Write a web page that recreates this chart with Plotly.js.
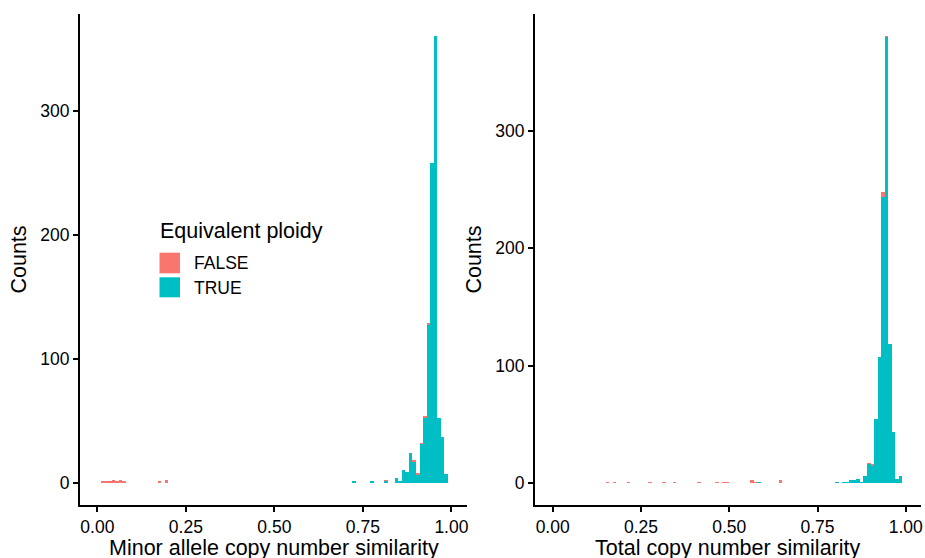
<!DOCTYPE html>
<html>
<head>
<meta charset="utf-8">
<script src="https://cdn.plot.ly/plotly-3.0.1.min.js"></script>
<style>html,body{margin:0;padding:0;background:#fff;}#chart{width:925px;height:558px;}</style>
</head>
<body>
<div id="chart"></div>
<script>
// ---- data (bin start, width 0.01) ----
const leftBins  = [0.01,0.02,0.03,0.04,0.05,0.06,0.07,0.17,0.19,0.72,0.77,0.81,0.84,0.85,0.86,0.87,0.88,0.89,0.90,0.91,0.92,0.93,0.94,0.95,0.96,0.97,0.98];
const leftTrue  = [0,0,0,0,0,0,0,0,0,1,1,1,4,1,10,9,24,17,6,31,52,127,258,360,52,37,7];
const leftFalse = [1,1,1,2,1,2,1,1,2,0,0,1,0,0,0,0,0,1,2,1,2,2,0,0,0,0,0];

const rightBins  = [0.15,0.17,0.21,0.27,0.31,0.34,0.41,0.46,0.48,0.49,0.56,0.57,0.58,0.64,0.80,0.82,0.83,0.84,0.85,0.86,0.87,0.88,0.89,0.90,0.91,0.92,0.93,0.94,0.95,0.96,0.97,0.98];
const rightTrue  = [0,0,0,0,0,0,0,0,0,0,0,0,1,0,1,1,1,2,2,3,1,6,16,14,54,107,244,380,118,43,3,6];
const rightFalse = [1,1,1,1,1,1,1,1,1,1,2,1,0,2,0,0,0,0,0,0,0,0,1,2,0,0,4,1,0,0,0,0];

const xTickVals = [0, 0.25, 0.5, 0.75, 1];
const xTickText = ['0.00', '0.25', '0.50', '0.75', '1.00'];
const yTickVals = [0, 100, 200, 300];
const groups = ['FALSE', 'TRUE'];
const colors = {FALSE: '#F8766D', TRUE: '#00BFC4'};
const binWidth = 0.01;
const xTitles = ['Minor allele copy number similarity', 'Total copy number similarity'];
const yTitle = 'Counts';
const legendTitle = 'Equivalent ploidy';

// ---- layout helpers ----
const W = 925, H = 558, mT = 14, mB = 53;
const PH = H - mT - mB;
const px = x => x / W;
const py = y => 1 - (y - mT) / PH;
const FONT = 'Liberation Sans, Arial, Helvetica, sans-serif';

function bar(x, y, name, xa, ya) {
  return {
    type: 'bar', x: x, y: y, name: name, xaxis: xa, yaxis: ya,
    width: binWidth, offset: 0,
    marker: {color: colors[name], line: {width: 0}},
    showlegend: false, hoverinfo: 'x+y+name'
  };
}

const traces = [
  bar(leftBins, leftTrue, 'TRUE', 'x', 'y'),
  bar(leftBins, leftFalse, 'FALSE', 'x', 'y'),
  bar(rightBins, rightTrue, 'TRUE', 'x2', 'y2'),
  bar(rightBins, rightFalse, 'FALSE', 'x2', 'y2')
];

const axCommon = {
  showgrid: false, zeroline: false, showline: true, linecolor: '#000', linewidth: 2,
  ticks: 'outside', ticklen: 5, tickwidth: 2, tickcolor: '#000',
  tickfont: {family: FONT, size: 17.5, color: '#000'}, automargin: false
};
const titleFont = {family: FONT, size: 21.5, color: '#000'};

const layout = {
  width: W, height: H,
  margin: {l: 0, r: 0, t: mT, b: mB, pad: 0},
  paper_bgcolor: '#fff', plot_bgcolor: '#fff',
  barmode: 'stack', bargap: 0,
  font: {family: FONT, color: '#000'},
  xaxis: Object.assign({}, axCommon, {
    domain: [px(80), px(467)], range: [-0.049, 1.044], anchor: 'y',
    tickvals: xTickVals, ticktext: xTickText
  }),
  yaxis: Object.assign({}, axCommon, {
    domain: [0, 1], range: [-18, 378], anchor: 'x',
    tickvals: yTickVals,
    title: {text: yTitle, font: titleFont, standoff: 8}
  }),
  xaxis2: Object.assign({}, axCommon, {
    domain: [px(535), px(921)], range: [-0.05, 1.043], anchor: 'y2',
    tickvals: xTickVals, ticktext: xTickText
  }),
  yaxis2: Object.assign({}, axCommon, {
    domain: [0, 1], range: [-19, 400], anchor: 'x2',
    tickvals: yTickVals,
    title: {text: yTitle, font: titleFont, standoff: 8}
  }),
  shapes: [
    {type: 'rect', xref: 'paper', yref: 'paper', x0: px(159.5), x1: px(180), y0: py(273.3), y1: py(252.7),
     fillcolor: colors.FALSE, line: {width: 0}},
    {type: 'rect', xref: 'paper', yref: 'paper', x0: px(159.5), x1: px(180), y0: py(297.3), y1: py(277.3),
     fillcolor: colors.TRUE, line: {width: 0}}
  ],
  annotations: [
    {text: xTitles[0], xref: 'paper', yref: 'paper', x: px(273.5), y: py(548), xanchor: 'center', yanchor: 'middle',
     showarrow: false, font: titleFont},
    {text: xTitles[1], xref: 'paper', yref: 'paper', x: px(728), y: py(548), xanchor: 'center', yanchor: 'middle',
     showarrow: false, font: titleFont},
    {text: legendTitle, xref: 'paper', yref: 'paper', x: px(158), y: py(231), xanchor: 'left', yanchor: 'middle',
     showarrow: false, font: titleFont},
    {text: groups[0], xref: 'paper', yref: 'paper', x: px(192), y: py(263), xanchor: 'left', yanchor: 'middle',
     showarrow: false, font: {family: FONT, size: 17.5, color: '#000'}},
    {text: groups[1], xref: 'paper', yref: 'paper', x: px(192), y: py(288), xanchor: 'left', yanchor: 'middle',
     showarrow: false, font: {family: FONT, size: 17.5, color: '#000'}}
  ]
};

Plotly.newPlot('chart', traces, layout, {staticPlot: true, displayModeBar: false});
</script>
</body>
</html>
